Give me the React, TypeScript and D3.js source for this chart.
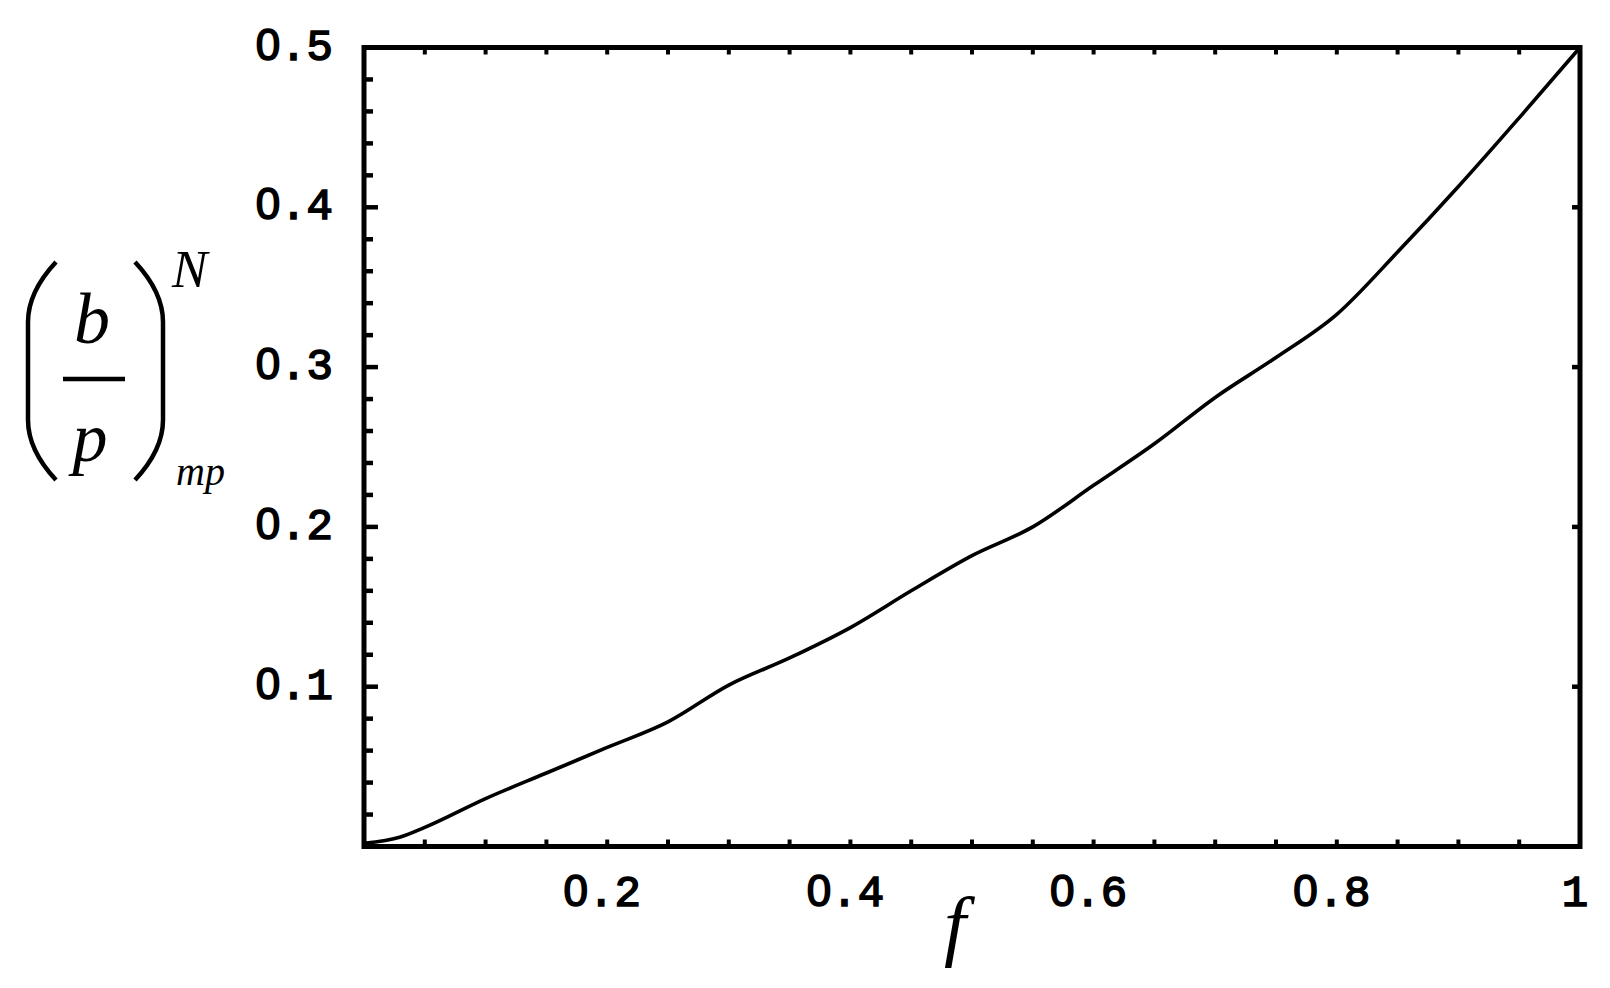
import React from "react";
import * as d3 from "d3";

const fValues = [0, 0.03, 0.05, 0.1, 0.15, 0.2, 0.25, 0.3, 0.35, 0.4, 0.45, 0.5, 0.55, 0.6, 0.65, 0.7, 0.75, 0.8, 0.85, 0.9, 0.95, 1.0];
const ratioValues = [0.002, 0.006, 0.012, 0.03, 0.046, 0.062, 0.078, 0.101, 0.118, 0.137, 0.16, 0.182, 0.2, 0.226, 0.252, 0.281, 0.306, 0.333, 0.372, 0.413, 0.456, 0.5];
const xTickLabels = [0.2, 0.4, 0.6, 0.8, 1];
const yTickLabels = [0.1, 0.2, 0.3, 0.4, 0.5];

const W = 1610;
const H = 988;
const L = 364, R = 1580, T = 47.5, B = 846.5;

const monoFont = "'Liberation Mono', 'DejaVu Sans Mono', monospace";
const sansFont = "'Liberation Sans', Arial, sans-serif";
const serif = "'Liberation Serif', 'DejaVu Serif', serif";

function Label({ s }: { s: string }) {
  // render zeros with a plain (undotted) glyph
  return (
    <>
      {s.split("").map((c, i) =>
        c === "0" ? (
          <tspan key={i} fontFamily={sansFont}>0</tspan>
        ) : (
          <tspan key={i} fontFamily={monoFont}>{c}</tspan>
        )
      )}
    </>
  );
}

export default function App() {
  const x = d3.scaleLinear().domain([0, 1]).range([L, R]);
  const y = d3.scaleLinear().domain([0, 0.5]).range([B, T]);
  const line = d3.line<number>().x((_, i) => x(fValues[i])).y((d) => y(d)).curve(d3.curveMonotoneX);

  const xMinor = d3.range(1, 20).map((i) => i * 0.05);
  const yMinor = d3.range(1, 25).map((i) => i * 0.02).filter((v) => Math.abs(v * 10 - Math.round(v * 10)) > 1e-6);
  const yMajor = [0.1, 0.2, 0.3, 0.4];

  return (
    <div style={{ position: "absolute", left: 0, top: 0 }}>
      <svg width={W} height={H} style={{ display: "block", background: "#fff" }}>
        <rect x={0} y={0} width={W} height={H} fill="#fff" />
        {/* curve */}
        <path d={line(ratioValues) || ""} fill="none" stroke="#000" strokeWidth={3.6} />
        {/* frame */}
        <rect x={L} y={T} width={R - L} height={B - T} fill="none" stroke="#000" strokeWidth={5} />
        {/* bottom & top ticks */}
        {xMinor.map((v, i) => (
          <g key={"xt" + i}>
            <line x1={x(v)} x2={x(v)} y1={B} y2={B - 7} stroke="#000" strokeWidth={4} />
            <line x1={x(v)} x2={x(v)} y1={T} y2={T + 7} stroke="#000" strokeWidth={4} />
          </g>
        ))}
        {/* left ticks */}
        {yMinor.map((v, i) => (
          <line key={"ym" + i} x1={L} x2={L + 9} y1={y(v)} y2={y(v)} stroke="#000" strokeWidth={4.5} />
        ))}
        {yMajor.map((v, i) => (
          <g key={"yM" + i}>
            <line x1={L} x2={L + 14} y1={y(v)} y2={y(v)} stroke="#000" strokeWidth={4.5} />
            <line x1={R} x2={R - 8} y1={y(v)} y2={y(v)} stroke="#000" strokeWidth={4.5} />
          </g>
        ))}
        {/* y tick labels */}
        {yTickLabels.map((v, i) => (
          <text key={"yl" + i} x={333} y={y(v) + 12} textAnchor="end" fontFamily={monoFont} fontSize={44} fill="#000" stroke="#000" strokeWidth={1.6}>
            <Label s={String(v)} />
          </text>
        ))}
        {/* x tick labels */}
        {xTickLabels.map((v, i) => (
          <text key={"xl" + i} x={x(v) - 5} y={906} textAnchor="middle" fontFamily={monoFont} fontSize={44} fill="#000" stroke="#000" strokeWidth={1.6}>
            <Label s={String(v)} />
          </text>
        ))}
        {/* x axis label */}
        <text x={944} y={951} fontFamily={serif} fontStyle="italic" fontSize={79} fill="#000">f</text>
        {/* y axis label */}
        <g fill="none" stroke="#000" strokeWidth={4.5}>
          <path d="M 56 262 Q 28 292 28 322 L 28 420 Q 28 450 56 480" />
          <path d="M 135 262 Q 163 292 163 322 L 163 420 Q 163 450 135 480" />
          <line x1={63} x2={125} y1={379} y2={379} />
        </g>
        <text x={92} y={343} textAnchor="middle" fontFamily={serif} fontStyle="italic" fontSize={72} fill="#000">b</text>
        <text x={90} y={461} textAnchor="middle" fontFamily={serif} fontStyle="italic" fontSize={70} fill="#000">p</text>
        <text x={172} y={287} fontFamily={serif} fontStyle="italic" fontSize={53} fill="#000">N</text>
        <text x={176} y={485} fontFamily={serif} fontStyle="italic" fontSize={40} fill="#000">mp</text>
      </svg>
    </div>
  );
}
